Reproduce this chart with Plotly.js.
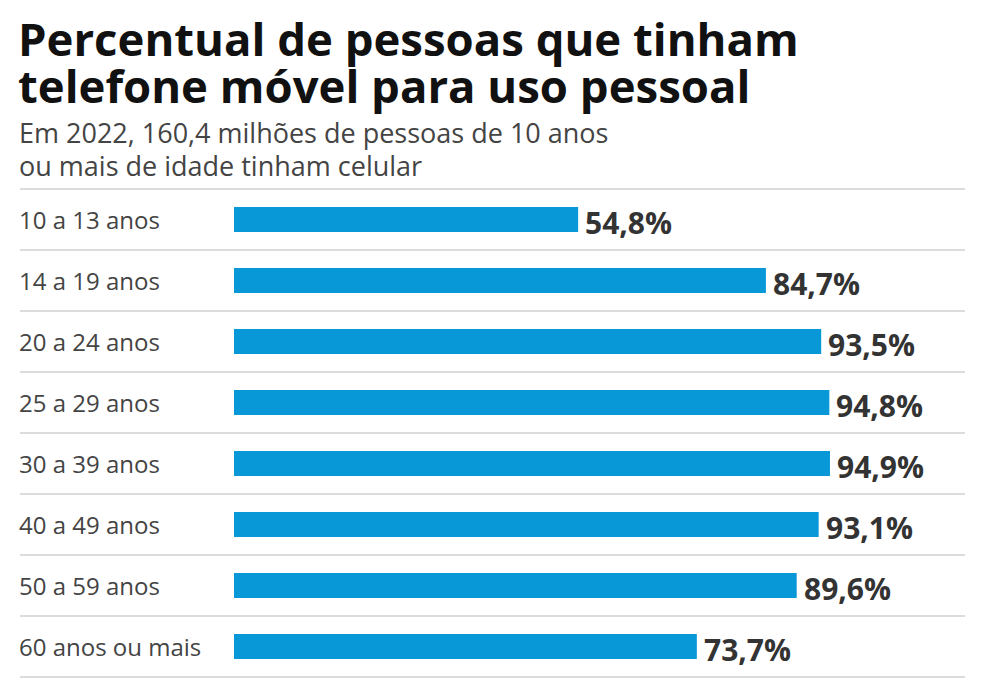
<!DOCTYPE html>
<html><head><meta charset="utf-8">
<script src="https://cdn.plot.ly/plotly-3.0.1.min.js"></script>
<style>body{margin:0;background:#fff}#chart{width:984px;height:692px}</style>
</head><body><div id="chart"></div>
<script>
const titleLines = ["Percentual de pessoas que tinham", "telefone móvel para uso pessoal"];
const subtitleLines = ["Em 2022, 160,4 milhões de pessoas de 10 anos", "ou mais de idade tinham celular"];
const categories = ["10 a 13 anos","14 a 19 anos","20 a 24 anos","25 a 29 anos","30 a 39 anos","40 a 49 anos","50 a 59 anos","60 anos ou mais"];
const values = [54.8, 84.7, 93.5, 94.8, 94.9, 93.1, 89.6, 73.7];

const W = 984, H = 692;
const plotL = 234, plotR = 862, plotT = 189, plotB = 677;
const pw = plotR - plotL;
const px2paper = x => (x - plotL) / pw;
const ypx = y => (plotB - y) / (plotB - plotT);
const FONT = '"Open Sans", sans-serif';

const fmt = v => v.toFixed(1).replace('.', ',') + '%';

const annotations = [];
// Title: base font sets line spacing (1.3 x 36 ≈ 47px), spans set glyph size
annotations.push({
  text: titleLines.map(t => '<span style="font-size:45.5px"><b>' + t + '</b></span>').join('<br>'),
  xref: 'paper', yref: 'paper', x: px2paper(16), xanchor: 'left', align: 'left',
  y: ypx(62), yanchor: 'middle', showarrow: false,
  font: {family: FONT, size: 36, color: '#111'}
});
annotations.push({
  text: subtitleLines.map(t => '<span style="font-size:27px">' + t + '</span>').join('<br>'),
  xref: 'paper', yref: 'paper', x: px2paper(17), xanchor: 'left', align: 'left',
  y: ypx(149), yanchor: 'middle', showarrow: false,
  font: {family: FONT, size: 25.4, color: '#444'}
});
categories.forEach((c, i) => annotations.push({
  text: c, xref: 'paper', yref: 'y', x: px2paper(17), xanchor: 'left',
  y: c, yanchor: 'middle', showarrow: false,
  font: {family: FONT, size: 24, color: '#444'}
}));
values.forEach((v, i) => annotations.push({
  text: '<b>' + fmt(v) + '</b>', xref: 'x', yref: 'y', x: v, xanchor: 'left', xshift: 5,
  y: categories[i], yanchor: 'middle', yshift: -3, showarrow: false,
  font: {family: FONT, size: 30, color: '#333'}
}));

const shapes = [];
for (let i = 0; i <= categories.length; i++) {
  shapes.push({
    type: 'line', xref: 'paper', yref: 'paper',
    x0: px2paper(20), x1: px2paper(965), y0: i / categories.length, y1: i / categories.length,
    line: {color: '#dcdcdc', width: 2}
  });
}

const trace = {
  type: 'bar', orientation: 'h', x: values, y: categories,
  marker: {color: '#0898d8', line: {width: 0}},
  width: 0.41, hoverinfo: 'skip'
};

const layout = {
  width: W, height: H,
  margin: {l: plotL, r: W - plotR, t: plotT, b: H - plotB, pad: 0},
  paper_bgcolor: '#fff', plot_bgcolor: '#fff',
  showlegend: false,
  xaxis: {range: [0, 100], visible: false, fixedrange: true},
  yaxis: {type: 'category', categoryorder: 'array', categoryarray: categories, autorange: false,
          range: [categories.length - 0.5, -0.5], visible: false, fixedrange: true},
  annotations, shapes
};

Plotly.newPlot('chart', [trace], layout, {displayModeBar: false, staticPlot: true});
</script></body></html>
